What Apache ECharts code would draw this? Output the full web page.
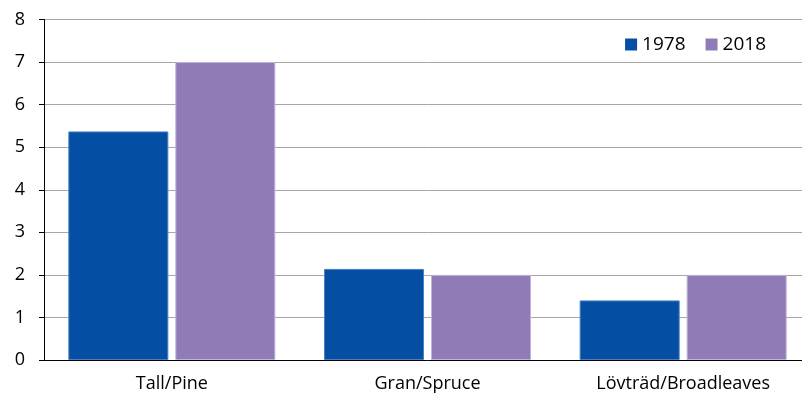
<!DOCTYPE html>
<html><head><meta charset="utf-8">
<script src="https://cdn.jsdelivr.net/npm/echarts@6/dist/echarts.min.js"></script>
<style>html,body{margin:0;padding:0;background:#fff;overflow:hidden;width:802px;height:396px}#c{width:811px;height:396px}</style>
</head><body><div id="c"></div>
<script>
const categories = ['Tall/Pine', 'Gran/Spruce', 'Lövträd/Broadleaves'];
const seriesNames = ['1978', '2018'];
const values1978 = [5.37, 2.14, 1.40];
const values2018 = [7.0, 2.0, 2.0];
const yTicks = [0, 1, 2, 3, 4, 5, 6, 7, 8];

const font = 'Open Sans';
const chart = echarts.init(document.getElementById('c'), null, {renderer: 'canvas'});
chart.setOption({
  animation: false,
  textStyle: {fontFamily: font},
  grid: {left: 44, top: 19.5, right: 0, bottom: 36, containLabel: false},
  legend: {
    data: seriesNames, right: 40, top: 30, itemWidth: 12, itemHeight: 12, itemGap: 20,
    icon: 'rect', itemStyle: {borderWidth: 0},
    textStyle: {fontSize: 19, color: '#000', fontFamily: font}
  },
  xAxis: {
    type: 'category', data: categories,
    axisLine: {lineStyle: {color: '#000', width: 1}},
    axisTick: {show: false},
    axisLabel: {fontSize: 18, color: '#000', margin: 15, fontFamily: font}
  },
  yAxis: {
    type: 'value', min: yTicks[0], max: yTicks[yTicks.length - 1], interval: 1,
    axisLine: {show: true, lineStyle: {color: '#000', width: 1}},
    axisTick: {show: true, length: 5, lineStyle: {color: '#000'}},
    splitLine: {lineStyle: {color: '#a6a6a6', width: 1}},
    axisLabel: {fontSize: 18, color: '#000', margin: 19, fontFamily: font}
  },
  series: [
    {name: seriesNames[0], type: 'bar', data: values1978, barWidth: 100, barGap: '7%',
     itemStyle: {color: '#044fa3', borderColor: '#4a7fc0', borderWidth: 1}},
    {name: seriesNames[1], type: 'bar', data: values2018, barWidth: 100,
     itemStyle: {color: '#8f7cb7', borderColor: '#c0b2dc', borderWidth: 1}}
  ]
});
</script></body></html>
